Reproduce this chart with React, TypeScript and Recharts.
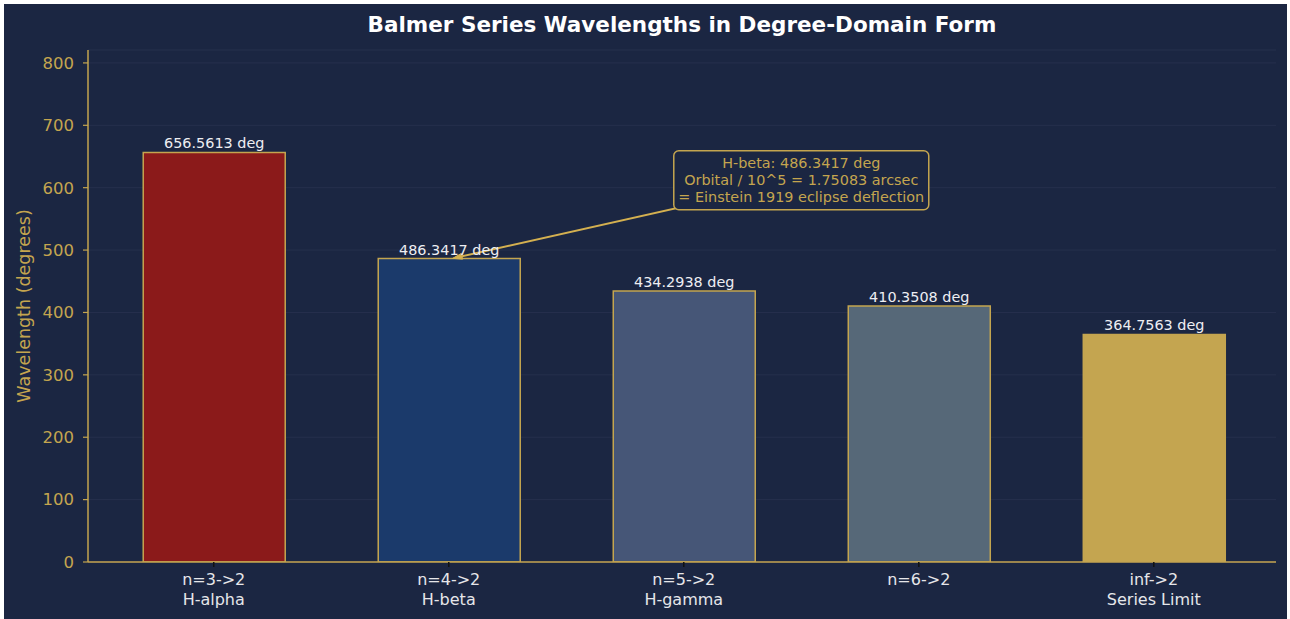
import { BarChart, Bar, XAxis, YAxis, CartesianGrid, Cell, LabelList, ReferenceLine } from 'recharts';

const transitions = ['n=3->2', 'n=4->2', 'n=5->2', 'n=6->2', 'inf->2'];
const lineNames = ['H-alpha', 'H-beta', 'H-gamma', '', 'Series Limit'];
const wavelengths = [656.5613, 486.3417, 434.2938, 410.3508, 364.7563];
const barColors = ['#8b1a1a', '#1b3a6b', '#465677', '#566878', '#c4a550'];
const yTicks = [0, 100, 200, 300, 400, 500, 600, 700, 800];
const noteLines = ['H-beta: 486.3417 deg', 'Orbital / 10^5 = 1.75083 arcsec', '= Einstein 1919 eclipse deflection'];

const BG = '#1b2642';
const GOLD = '#c4a54f';
const FONT = '"DejaVu Sans", sans-serif';

const data = transitions.map((t, i) => ({
  pos: i,
  transition: t,
  name: lineNames[i],
  value: wavelengths[i],
}));

const XTick = ({ x, y, payload }: any) => {
  const i = payload.value as number;
  return (
    <text x={x} y={y} textAnchor="middle" fill="#e6e6ea" fontSize={16} fontFamily={FONT}>
      <tspan x={x} dy={16}>{transitions[i]}</tspan>
      {lineNames[i] && <tspan x={x} dy={19.5}>{lineNames[i]}</tspan>}
    </text>
  );
};

// arrow from the H-beta bar top to the note box, box drawn at the text anchor
const NoteShape = (props: any) => {
  const { x1, y1, x2, y2 } = props;
  const w = 255;
  const h = 59;
  const left = x2 - w / 2;
  const top = y2 - h / 2;
  const ang = Math.atan2(y2 - y1, x2 - x1);
  const hl = 10;
  const tx = x1 + 4 * Math.cos(ang);
  const ty = y1 + 1 * Math.sin(ang);
  return (
    <g>
      <line x1={tx + 6 * Math.cos(ang)} y1={ty + 6 * Math.sin(ang)} x2={x2} y2={y2} stroke="#d4b050" strokeWidth={2} />
      <path
        d={`M${tx + hl * Math.cos(ang + 0.3)},${ty + hl * Math.sin(ang + 0.3)} L${tx},${ty} L${tx + hl * Math.cos(ang - 0.3)},${ty + hl * Math.sin(ang - 0.3)} Z`}
        stroke="#d4b050"
        strokeWidth={1}
        fill="#d4b050"
      />
      <rect x={left} y={top} width={w} height={h} rx={5} ry={5} fill={BG} stroke={GOLD} strokeWidth={1.5} />
      {noteLines.map((s, k) => (
        <text key={k} x={x2} y={top + 17 + k * 17} textAnchor="middle" fill={GOLD} fontSize={14.4} fontFamily={FONT}>
          {s}
        </text>
      ))}
    </g>
  );
};

export default function App() {
  return (
    <div style={{ background: '#fff', width: 1290, height: 619, position: 'fixed', left: 0, top: 0 }}>
      <div style={{ position: 'absolute', left: 4, top: 4, width: 1283, height: 615, background: BG, fontFamily: FONT }}>
        <div style={{ position: 'absolute', left: 84, width: 1188, top: 8, textAlign: 'center', color: '#ffffff', fontWeight: 'bold', fontSize: 21.5 }}>
          Balmer Series Wavelengths in Degree-Domain Form
        </div>
        <BarChart width={1283} height={615} data={data} margin={{ top: 46, right: 11, bottom: 7, left: 24 }}>
          <CartesianGrid vertical={false} stroke="#26304d" strokeWidth={1} />
          <XAxis
            type="number"
            dataKey="pos"
            domain={[-0.535, 4.52]}
            ticks={[0, 1, 2, 3, 4]}
            allowDataOverflow
            height={50}
            tickSize={5}
            tickMargin={2}
            axisLine={{ stroke: GOLD, strokeWidth: 1.5 }}
            tickLine={{ stroke: '#111', strokeWidth: 1.5 }}
            tick={<XTick />}
            interval={0}
          />
          <YAxis
            domain={[0, 820.7]}
            ticks={yTicks}
            allowDataOverflow
            width={60}
            tickSize={5}
            tickMargin={9}
            axisLine={{ stroke: GOLD, strokeWidth: 1.5 }}
            tickLine={{ stroke: GOLD, strokeWidth: 1.2 }}
            tick={{ fill: GOLD, fontSize: 16.5, fontFamily: FONT }}
            label={{ value: 'Wavelength (degrees)', angle: -90, position: 'left', offset: 4, fill: GOLD, fontSize: 17.5, fontFamily: FONT, style: { textAnchor: 'middle' } }}
          />
          <Bar dataKey="value" barSize={142} stroke={GOLD} strokeWidth={1.5} isAnimationActive={false}>
            {data.map((d, i) => (
              <Cell key={d.transition} fill={barColors[i]} />
            ))}
            <LabelList
              dataKey="value"
              position="top"
              offset={4}
              fill="#eeeef2"
              fontSize={14.4}
              fontFamily={FONT}
              formatter={(v: any) => `${Number(v).toFixed(4)} deg`}
            />
          </Bar>
          <ReferenceLine
            segment={[{ x: 1, y: wavelengths[1] }, { x: 2.5, y: 612 }]}
            ifOverflow="visible"
            shape={NoteShape}
          />
        </BarChart>
      </div>
    </div>
  );
}
